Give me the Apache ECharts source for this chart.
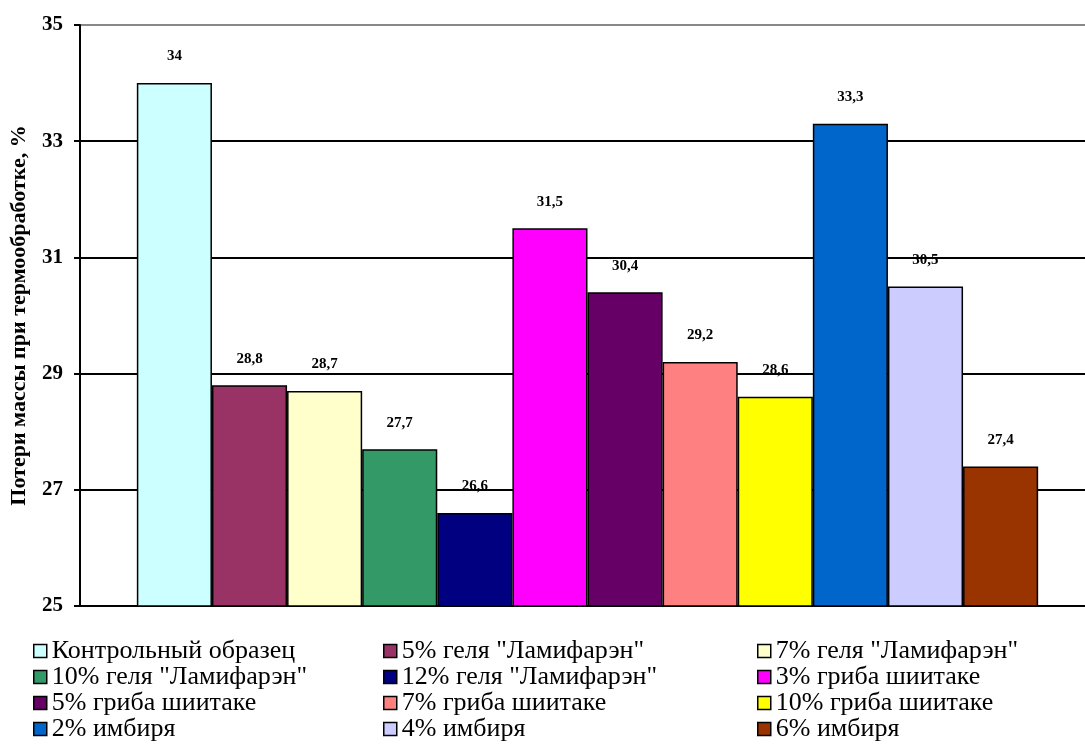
<!DOCTYPE html>
<html>
<head>
<meta charset="utf-8">
<script src="https://cdn.jsdelivr.net/npm/echarts@6/dist/echarts.min.js"></script>
<style>
  html, body { margin: 0; padding: 0; background: #fff; }
  #chart { width: 1085px; height: 751px; }
</style>
</head>
<body>
<div id="chart"></div>
<script>
var seriesNames = [
    "Контрольный образец",
    "5% геля \"Ламифарэн\"",
    "7% геля \"Ламифарэн\"",
    "10% геля \"Ламифарэн\"",
    "12% геля \"Ламифарэн\"",
    "3% гриба шиитаке",
    "5% гриба шиитаке",
    "7% гриба шиитаке",
    "10% гриба шиитаке",
    "2% имбиря",
    "4% имбиря",
    "6% имбиря"
];
var massLoss = [34, 28.8, 28.7, 27.7, 26.6, 31.5, 30.4, 29.2, 28.6, 33.3, 30.5, 27.4];
var barColors = ["#CCFFFF", "#993366", "#FFFFCC", "#339966", "#000080", "#FF00FF",
                 "#660066", "#FF8080", "#FFFF00", "#0066CC", "#CCCCFF", "#993300"];
var yTicks = [25, 27, 29, 31, 33, 35];

var serif = "Liberation Serif";
var chart = echarts.init(document.getElementById("chart"));

var series = seriesNames.map(function (name, i) {
    return {
        name: name,
        type: "bar",
        data: [massLoss[i]],
        barGap: "0%",
        barCategoryGap: "11.2%",
        itemStyle: { color: barColors[i], borderColor: "#000", borderWidth: 1.5 },
        label: {
            show: true,
            position: "top",
            distance: 19,
            fontFamily: serif,
            fontWeight: "bold",
            fontSize: 15,
            color: "#000",
            formatter: function (p) { return String(p.value).replace(".", ","); }
        }
    };
});

// legend in three columns
function legendColumn(left, offset) {
    var names = [];
    for (var i = offset; i < seriesNames.length; i += 3) names.push(seriesNames[i]);
    return {
        orient: "vertical",
        left: left,
        top: 633,
        itemGap: 0,
        itemWidth: 13,
        itemHeight: 13,
        icon: "rect",
        data: names,
        selectedMode: false,
        itemStyle: { borderColor: "#000", borderWidth: 1.5 },
        textStyle: { fontFamily: serif, fontSize: 26, lineHeight: 25, color: "#000" }
    };
}

var option = {
    animation: false,
    textStyle: { fontFamily: serif },
    // plot runs a little past the right edge, as in the original
    grid: { left: 80, right: -10, top: 25, bottom: 145, outerBoundsMode: "none" },
    legend: [legendColumn(28, 0), legendColumn(378, 1), legendColumn(752, 2)],
    xAxis: {
        type: "category",
        data: [""],
        axisLine: { lineStyle: { color: "#000", width: 2 } },
        axisTick: { show: false },
        axisLabel: { show: false }
    },
    yAxis: {
        type: "value",
        min: yTicks[0],
        max: yTicks[yTicks.length - 1],
        interval: 2,
        name: "Потери массы при термообработке, %",
        nameLocation: "middle",
        nameGap: 50,
        nameTextStyle: { fontFamily: serif, fontWeight: "bold", fontSize: 22, color: "#000" },
        axisLine: { show: true, lineStyle: { color: "#000", width: 2 } },
        axisTick: { show: true, inside: false, length: 6, lineStyle: { color: "#000", width: 2 } },
        axisLabel: { margin: 17, fontFamily: serif, fontWeight: "bold", fontSize: 21, color: "#000" },
        splitLine: {
            lineStyle: {
                color: ["#000", "#000", "#000", "#000", "#000", "#888"],
                width: 2
            }
        }
    },
    series: series
};

chart.setOption(option);
</script>
</body>
</html>
